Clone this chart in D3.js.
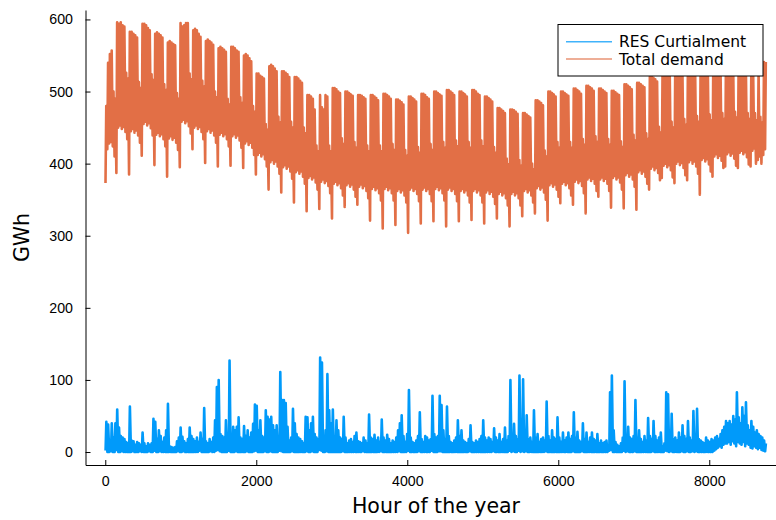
<!DOCTYPE html>
<html>
<head>
<meta charset="utf-8">
<script src="https://cdn.jsdelivr.net/npm/d3@7"></script>
<style>
  body { margin: 0; background: #fff; }
  svg { display: block; font-family: "DejaVu Sans", sans-serif; }
</style>
</head>
<body>
<svg id="chart" width="776" height="520"></svg>
<script>
// series names as in the legend
const seriesNames = ["RES Curtialment", "Total demand"];
const seriesColors = ["#009AFA", "#E26F46"];

// axis ticks
const xTicks = [0, 2000, 4000, 6000, 8000];
const yTicks = [0, 100, 200, 300, 400, 500, 600];

// RES curtailment, daily high and low (GWh), one row per week, day 0 = Jan 1
const curtailMax = [
  42, 38, 8, 40, 20, 40, 59,
  34, 22, 20, 18, 14, 12, 63,
  16, 15, 10, 14, 12, 10, 27,
  12, 8, 12, 10, 12, 46, 42,
  18, 30, 22, 14, 20, 30, 67,
  8, 7, 6, 7, 15, 20, 34,
  21, 15, 12, 18, 34, 22, 18,
  15, 20, 14, 27, 18, 61, 15,
  12, 18, 14, 20, 44, 90, 100,
  25, 22, 20, 44, 18, 127, 24,
  35, 30, 35, 48, 20, 18, 36,
  22, 30, 20, 27, 39, 66, 64,
  30, 44, 22, 20, 58, 49, 45,
  49, 37, 30, 37, 22, 111, 72,
  72, 68, 35, 16, 20, 60, 40,
  25, 20, 18, 15, 12, 49, 48,
  30, 40, 49, 25, 20, 18, 131,
  124, 20, 30, 108, 58, 40, 59,
  22, 44, 30, 20, 18, 49, 20,
  12, 16, 18, 14, 22, 27, 15,
  14, 12, 20, 16, 12, 52, 20,
  18, 24, 16, 20, 14, 45, 20,
  16, 24, 18, 12, 16, 14, 20,
  30, 40, 51, 22, 14, 25, 86,
  20, 14, 12, 16, 22, 55, 18,
  14, 22, 20, 16, 18, 78, 25,
  20, 22, 78, 65, 30, 18, 63,
  22, 14, 12, 16, 20, 44, 22,
  30, 16, 14, 12, 18, 37, 14,
  12, 16, 14, 18, 22, 44, 20,
  16, 20, 18, 14, 33, 20, 16,
  25, 14, 18, 34, 16, 22, 100,
  20, 39, 22, 18, 106, 14, 101,
  22, 51, 18, 20, 14, 58, 20,
  25, 14, 18, 20, 16, 70, 22,
  16, 30, 20, 18, 48, 20, 14,
  27, 16, 20, 27, 18, 22, 55,
  20, 28, 16, 14, 40, 18, 27,
  14, 20, 27, 18, 16, 25, 12,
  16, 12, 14, 16, 5, 83, 106,
  30, 14, 10, 8, 12, 20, 98,
  22, 35, 20, 18, 22, 72, 20,
  30, 18, 14, 22, 16, 47, 22,
  18, 43, 22, 16, 20, 27, 8,
  12, 83, 80, 22, 53, 18, 20,
  16, 27, 20, 37, 22, 18, 43,
  20, 16, 57, 22, 60, 18, 16,
  14, 12, 20, 16, 14, 18, 16,
  20, 22, 18, 25, 30, 35, 43,
  40, 43, 38, 50, 45, 83, 48,
  40, 62, 50, 69, 37, 30, 43,
  35, 27, 30, 25, 22, 20, 16,
  12
];
const curtailMin = [
  2, 0, 0, 1, 0, 0, 3,
  0, 0, 1, 0, 0, 0, 0,
  0, 1, 0, 0, 0, 1, 0,
  0, 0, 0, 1, 0, 0, 2,
  0, 0, 1, 0, 0, 0, 0,
  0, 0, 0, 0, 0, 1, 0,
  0, 1, 0, 0, 0, 0, 0,
  0, 0, 0, 2, 0, 0, 0,
  0, 0, 1, 0, 0, 2, 3,
  1, 0, 0, 0, 0, 2, 0,
  0, 0, 1, 0, 0, 0, 0,
  0, 1, 0, 0, 0, 1, 2,
  0, 0, 0, 0, 1, 0, 0,
  1, 0, 0, 0, 0, 2, 1,
  0, 0, 0, 0, 0, 1, 0,
  0, 0, 0, 0, 0, 0, 1,
  0, 0, 1, 0, 0, 0, 3,
  2, 0, 0, 1, 0, 0, 0,
  0, 0, 0, 0, 0, 1, 0,
  0, 0, 0, 0, 0, 0, 0,
  0, 0, 1, 0, 0, 0, 0,
  0, 0, 0, 0, 0, 1, 0,
  0, 0, 0, 0, 0, 0, 0,
  0, 1, 0, 0, 0, 0, 2,
  0, 0, 0, 0, 0, 1, 0,
  0, 0, 0, 0, 0, 2, 0,
  0, 0, 1, 1, 0, 0, 0,
  0, 0, 0, 0, 0, 0, 0,
  0, 0, 0, 0, 0, 1, 0,
  0, 0, 0, 0, 0, 0, 0,
  0, 0, 0, 0, 1, 0, 0,
  0, 0, 0, 0, 0, 0, 2,
  0, 1, 0, 0, 2, 0, 1,
  0, 1, 0, 0, 0, 0, 0,
  0, 0, 0, 0, 0, 1, 0,
  0, 0, 0, 0, 0, 0, 0,
  0, 0, 0, 0, 0, 0, 1,
  0, 0, 0, 0, 1, 0, 0,
  0, 0, 0, 0, 0, 0, 0,
  0, 0, 0, 0, 0, 2, 3,
  0, 0, 0, 0, 0, 0, 2,
  0, 1, 0, 0, 0, 1, 0,
  0, 0, 0, 0, 0, 0, 0,
  0, 1, 0, 0, 0, 0, 0,
  0, 2, 1, 0, 1, 0, 0,
  0, 0, 0, 1, 0, 0, 1,
  0, 0, 1, 0, 1, 0, 0,
  0, 0, 0, 0, 0, 0, 0,
  2, 4, 6, 8, 6, 10, 12,
  12, 14, 10, 15, 12, 8, 14,
  12, 10, 14, 8, 12, 10, 6,
  5, 8, 6, 4, 6, 3, 2,
  1
];

// Total demand, daily peak and night low (GWh), one row per week (Tue..Mon)
const demandPeak = [
  480, 540, 552, 557, 500, 490, 596,
  594, 596, 592, 590, 526, 518, 583,
  583, 580, 578, 575, 513, 505, 594,
  594, 592, 588, 585, 524, 516, 580,
  582, 580, 578, 575, 510, 502, 568,
  570, 568, 566, 564, 498, 490, 595,
  590, 592, 595, 595, 525, 517, 585,
  587, 585, 580, 576, 515, 507, 570,
  572, 570, 568, 565, 500, 492, 560,
  562, 560, 558, 555, 490, 482, 562,
  562, 560, 557, 555, 492, 484, 550,
  552, 550, 546, 542, 480, 472, 525,
  525, 522, 520, 518, 455, 447, 535,
  537, 535, 532, 528, 465, 457, 528,
  528, 526, 524, 520, 458, 450, 520,
  520, 518, 515, 512, 450, 442, 495,
  495, 493, 490, 475, 425, 417, 495,
  478, 475, 495, 493, 425, 417, 505,
  505, 503, 500, 498, 435, 427, 500,
  500, 498, 496, 494, 430, 422, 495,
  495, 494, 492, 490, 425, 417, 495,
  495, 493, 491, 488, 425, 417, 497,
  497, 495, 493, 490, 427, 419, 489,
  489, 487, 485, 482, 419, 411, 493,
  493, 491, 489, 486, 423, 415, 497,
  497, 495, 492, 490, 427, 419, 500,
  500, 498, 496, 494, 430, 422, 502,
  502, 500, 498, 495, 432, 424, 500,
  500, 498, 496, 493, 430, 422, 502,
  502, 500, 497, 495, 432, 424, 493,
  493, 491, 489, 486, 423, 415, 477,
  477, 475, 473, 470, 407, 399, 475,
  475, 474, 472, 469, 405, 397, 470,
  470, 468, 466, 464, 400, 392, 488,
  488, 486, 484, 481, 418, 410, 500,
  500, 498, 496, 493, 430, 422, 500,
  500, 498, 496, 494, 430, 422, 504,
  504, 502, 500, 497, 434, 426, 508,
  508, 506, 504, 501, 438, 430, 504,
  504, 502, 500, 498, 434, 426, 501,
  501, 499, 497, 495, 431, 423, 510,
  510, 508, 506, 503, 440, 432, 512,
  512, 510, 508, 506, 442, 434, 521,
  521, 519, 517, 514, 451, 443, 528,
  528, 526, 524, 521, 458, 450, 532,
  532, 530, 528, 525, 462, 454, 536,
  536, 534, 532, 529, 466, 458, 538,
  538, 536, 534, 531, 468, 460, 540,
  540, 538, 536, 533, 470, 462, 542,
  542, 540, 538, 535, 472, 464, 540,
  540, 538, 536, 533, 470, 462, 530,
  530, 470, 460, 528, 465, 457, 541,
  541
];
const demandLow = [
  373, 420, 428, 430, 424, 410, 387,
  450, 453, 448, 451, 444, 434, 385,
  445, 448, 443, 446, 439, 429, 411,
  455, 458, 453, 456, 449, 439, 398,
  440, 443, 438, 441, 434, 424, 382,
  435, 438, 433, 436, 429, 419, 395,
  458, 461, 456, 459, 452, 442, 420,
  450, 453, 448, 451, 444, 434, 401,
  445, 448, 443, 446, 439, 429, 396,
  440, 443, 438, 441, 434, 424, 397,
  438, 441, 436, 439, 432, 422, 394,
  428, 431, 426, 429, 422, 412, 385,
  412, 415, 410, 413, 406, 396, 364,
  402, 405, 400, 403, 396, 386, 360,
  395, 398, 393, 396, 389, 379, 346,
  388, 391, 386, 389, 382, 372, 334,
  380, 383, 378, 381, 374, 364, 337,
  375, 378, 373, 376, 369, 359, 324,
  372, 375, 370, 373, 366, 356, 340,
  370, 373, 368, 371, 364, 354, 343,
  368, 371, 366, 369, 362, 352, 321,
  365, 368, 363, 366, 359, 349, 310,
  365, 368, 363, 366, 359, 349, 315,
  362, 365, 360, 363, 356, 346, 304,
  364, 367, 362, 365, 358, 348, 317,
  364, 367, 362, 365, 358, 348, 320,
  365, 368, 363, 366, 359, 349, 313,
  364, 367, 362, 365, 358, 348, 320,
  362, 365, 360, 363, 356, 346, 322,
  362, 365, 360, 363, 356, 346, 317,
  360, 363, 358, 361, 354, 344, 324,
  358, 361, 356, 359, 352, 342, 313,
  358, 361, 356, 359, 352, 342, 327,
  362, 365, 360, 363, 356, 346, 331,
  366, 369, 364, 367, 360, 350, 321,
  370, 373, 368, 371, 364, 354, 345,
  372, 375, 370, 373, 366, 356, 343,
  375, 378, 373, 376, 369, 359, 331,
  378, 381, 376, 379, 372, 362, 354,
  378, 381, 376, 379, 372, 362, 339,
  380, 383, 378, 381, 374, 364, 338,
  384, 387, 382, 385, 378, 368, 336,
  388, 391, 386, 389, 382, 372, 364,
  393, 396, 391, 394, 387, 377, 380,
  397, 400, 395, 398, 391, 381, 373,
  400, 403, 398, 401, 394, 384, 377,
  402, 405, 400, 403, 396, 386, 357,
  405, 408, 403, 406, 399, 389, 382,
  410, 413, 408, 411, 404, 394, 396,
  413, 416, 411, 414, 407, 397, 394,
  415, 418, 413, 416, 409, 399, 396,
  418, 421, 400, 405, 410, 400, 412,
  420
];

// turn daily low/high into an hourly polyline (low at night, high at midday)
function dailyPoints(lows, highs, lowHour, highHour) {
  let pts = [];
  lows.forEach(function (lo, d) {
    pts.push([d * 24 + lowHour, lo]);
    pts.push([d * 24 + highHour, highs[d]]);
  });
  return pts;
}

function line_plot(axis_key) {
  let svg = d3.select(`#${axis_key}`);

  // plot area of the figure
  let left = 85.5, right = 786.5, top = 10, bottom = 465;

  let xScale = d3.scaleLinear().domain([-262, 9023]).range([left, right]);
  let yScale = d3.scaleLinear().domain([-18, 613.1]).range([bottom, top]);

  let series = [
    dailyPoints(curtailMin, curtailMax, 4, 14),
    dailyPoints(demandLow, demandPeak, 3, 13),
  ];

  let line = d3
    .line()
    .x(function (d) {
      return xScale(d[0]);
    })
    .y(function (d) {
      return yScale(d[1]);
    });

  svg
    .selectAll(".series")
    .data(series)
    .enter()
    .append("path")
    .attr("class", "series")
    .attr("d", line)
    .attr("fill", "none")
    .attr("stroke", function (d, i) {
      return seriesColors[i];
    })
    .attr("stroke-width", 2.6)
    .attr("stroke-linejoin", "round");

  // axes, ticks pointing inside, plain integer labels
  let x_axis = d3
    .axisBottom(xScale)
    .tickValues(xTicks)
    .tickFormat(d3.format("d"))
    .tickSize(-5)
    .tickSizeOuter(0)
    .tickPadding(11);
  let y_axis = d3
    .axisLeft(yScale)
    .tickValues(yTicks)
    .tickFormat(d3.format("d"))
    .tickSize(-5)
    .tickSizeOuter(0)
    .tickPadding(12.5);

  let gx = svg.append("g").attr("transform", `translate(0,${bottom})`).call(x_axis);
  let gy = svg.append("g").attr("transform", `translate(${left},0)`).call(y_axis);
  [gx, gy].forEach(function (g) {
    g.selectAll("text").style("font-size", "14.2px").attr("fill", "#000");
    g.selectAll("line").attr("stroke", "#000");
    g.select(".domain").attr("stroke", "#000");
  });

  // axis titles
  svg
    .append("text")
    .attr("x", (left + right) / 2)
    .attr("y", 513)
    .attr("text-anchor", "middle")
    .style("font-size", "20.5px")
    .text("Hour of the year");
  svg
    .append("text")
    .attr("transform", `translate(29,${(top + bottom) / 2}) rotate(-90)`)
    .attr("text-anchor", "middle")
    .style("font-size", "20.5px")
    .text("GWh");

  // legend
  let legend = svg.append("g").attr("transform", "translate(558,24.5)");
  legend
    .append("rect")
    .attr("width", 205)
    .attr("height", 51.5)
    .attr("fill", "#fff")
    .attr("stroke", "#000")
    .attr("stroke-width", 1);
  seriesNames.forEach(function (name, i) {
    let row = legend.append("g").attr("transform", `translate(0,${17.2 + i * 17.3})`);
    row
      .append("line")
      .attr("x1", 8)
      .attr("x2", 54)
      .attr("stroke", seriesColors[i])
      .attr("stroke-opacity", 0.75)
      .attr("stroke-width", 1.6);
    row
      .append("text")
      .attr("x", 61)
      .attr("y", 5.6)
      .style("font-size", "15.5px")
      .text(name);
  });
}

line_plot("chart");
</script>
</body>
</html>
